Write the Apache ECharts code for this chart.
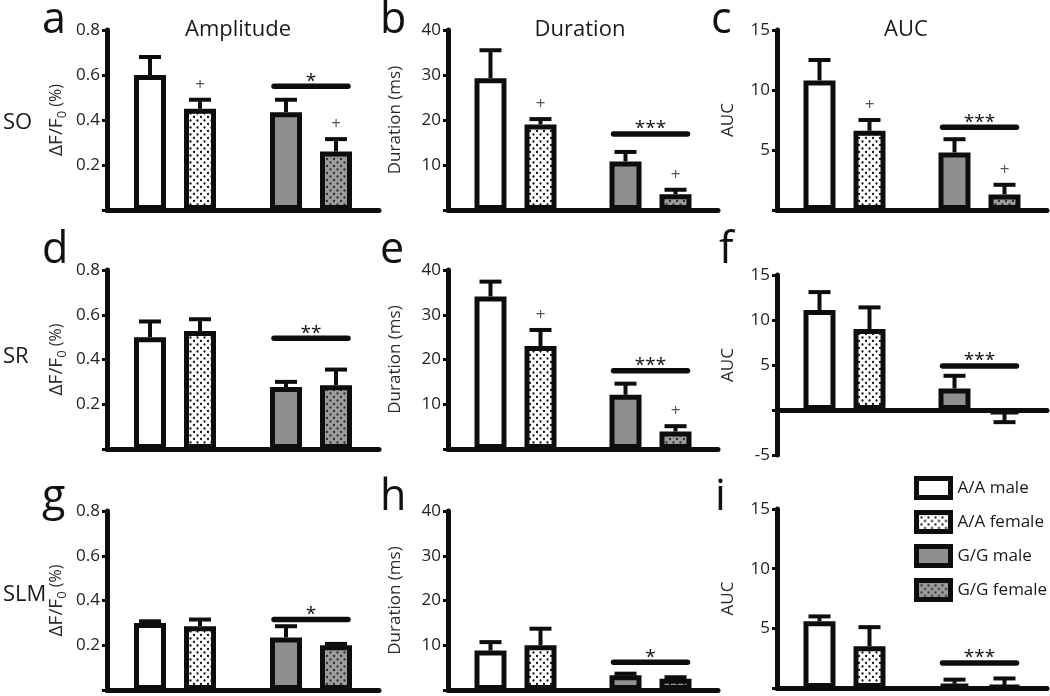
<!DOCTYPE html>
<html>
<head>
<meta charset="utf-8">
<script src="https://cdn.jsdelivr.net/npm/echarts@6/dist/echarts.min.js"></script>
<style>
html,body{margin:0;padding:0;background:#fff;}
#chart{width:1050px;height:696px;}
</style>
</head>
<body>
<div id="chart"></div>
<script>
// ---------------- DATA ----------------
const seriesNames = ['A/A male', 'A/A female', 'G/G male', 'G/G female'];
const groupCats = ['A/A', 'G/G'];
const rowLabels = ['SO', 'SR', 'SLM'];
const colTitles = ['Amplitude', 'Duration', 'AUC'];
const panelLetters = ['a', 'b', 'c', 'd', 'e', 'f', 'g', 'h', 'i'];
const yAxisNames = ['ΔF/F{sub|0}{pct| (%)}', 'Duration (ms)', 'AUC'];

// means (order: A/A male, A/A female, G/G male, G/G female) and SEM
const SO_amplitude = [0.60, 0.45, 0.435, 0.26];
const SO_amplitude_sem = [0.08, 0.04, 0.055, 0.055];
const SO_duration = [29.3, 19.0, 10.8, 3.5];
const SO_duration_sem = [6.2, 1.2, 2.1, 1.0];
const SO_auc = [10.8, 6.6, 4.8, 1.3];
const SO_auc_sem = [1.7, 0.9, 1.1, 0.8];

const SR_amplitude = [0.50, 0.527, 0.277, 0.285];
const SR_amplitude_sem = [0.07, 0.053, 0.023, 0.07];
const SR_duration = [34.1, 23.0, 12.1, 3.9];
const SR_duration_sem = [3.3, 3.6, 2.5, 1.2];
const SR_auc = [11.1, 9.0, 2.4, -0.45];
const SR_auc_sem = [2.0, 2.4, 1.4, 0.9];

const SLM_amplitude = [0.30, 0.285, 0.235, 0.20];
const SLM_amplitude_sem = [0.007, 0.03, 0.05, 0.006];
const SLM_duration = [8.8, 10.0, 3.3, 2.5];
const SLM_duration_sem = [1.9, 3.7, 0.35, 0.35];
const SLM_auc = [5.6, 3.5, 0.35, 0.15];
const SLM_auc_sem = [0.4, 1.6, 0.35, 0.65];

// significance between G/G male and G/G female bars
const sigStars = ['*', '***', '***', '**', '***', '***', '*', '*', '***'];
const sigLevel = [0.55, 16.9, 6.9, 0.495, 17.5, 4.9, 0.315, 6.2, 2.1];
// '+' marks above bars
const plusMarks = [
  [0, 1, 0, 1], [0, 1, 0, 1], [0, 1, 0, 1],
  [0, 0, 0, 0], [0, 1, 0, 1], [0, 0, 0, 0],
  [0, 0, 0, 0], [0, 0, 0, 0], [0, 0, 0, 0]
];

// y-axis ranges per panel: [min, max, interval]
const amplitudeRange = [0, 0.8, 0.2];
const durationRange = [0, 40, 10];
const aucRange = [0, 15, 5];
const aucRangeSR = [-5, 15, 5];

// ---------------- LAYOUT / STYLE ----------------
const FONT = "'Open Sans', 'Noto Sans', sans-serif";
const panelMeans = [SO_amplitude, SO_duration, SO_auc, SR_amplitude, SR_duration, SR_auc, SLM_amplitude, SLM_duration, SLM_auc];
const panelSems = [SO_amplitude_sem, SO_duration_sem, SO_auc_sem, SR_amplitude_sem, SR_duration_sem, SR_auc_sem, SLM_amplitude_sem, SLM_duration_sem, SLM_auc_sem];
const panelRanges = [amplitudeRange, durationRange, aucRange, amplitudeRange, durationRange, aucRangeSR, amplitudeRange, durationRange, aucRange];

const colLeft = [107, 448, 777];
const colWidth = [272, 270, 270];
const panelTop = [30, 30, 30, 270, 270, 275, 511, 511, 509];
const panelHeight = [180, 180, 180, 179, 179, 180, 179, 179, 179];
const nameGaps = [38, 44, 40];
const letterX = [42, 380, 711, 42, 380, 719, 42, 380, 715];
const letterY = [21, 21, 21, 251, 251, 251, 498, 498, 498];
const rowLabelY = [123, 357, 595];
const titleX = [238, 580, 906];

const BAR_W = 32;
const PAIR_OFF = 25;
const CAP = 22;
const SIG_HALF = 37;
const INK = '#0d0d0d';

function dotPattern(bg, dot) {
  const c = document.createElement('canvas');
  c.width = 7; c.height = 7;
  const g = c.getContext('2d');
  g.fillStyle = bg; g.fillRect(0, 0, 7, 7);
  g.fillStyle = dot;
  g.beginPath(); g.arc(1.5, 1.5, 1.15, 0, Math.PI * 2); g.fill();
  g.beginPath(); g.arc(5, 5, 1.15, 0, Math.PI * 2); g.fill();
  return { image: c, repeat: 'repeat' };
}
const fills = ['#ffffff', dotPattern('#ffffff', '#111111'), '#8e908d', dotPattern('#9c9c9c', '#2e2e2e')];

const grids = [], xAxes = [], yAxes = [], series = [], graphics = [];

for (let p = 0; p < 9; p++) {
  const col = p % 3;
  const means = panelMeans[p], sems = panelSems[p], rng = panelRanges[p];
  grids.push({ left: colLeft[col], width: colWidth[col], top: panelTop[p], height: panelHeight[p], containLabel: false });
  xAxes.push({
    gridIndex: p, type: 'category', data: groupCats,
    axisLine: { show: true, onZero: true, lineStyle: { color: INK, width: 5 } },
    axisTick: { show: false }, axisLabel: { show: false }, splitLine: { show: false }
  });
  yAxes.push({
    gridIndex: p, type: 'value', min: rng[0], max: rng[1], interval: rng[2],
    axisLine: { show: true, onZero: false, lineStyle: { color: INK, width: 5 } },
    axisTick: { show: true, length: 5, lineStyle: { color: INK, width: 3 } },
    axisLabel: { color: '#222', fontSize: 17, fontFamily: FONT, margin: 7, formatter: v => (v === 0 ? '' : String(v)) },
    splitLine: { show: false },
    name: yAxisNames[col], nameLocation: 'middle', nameRotate: 90, nameGap: nameGaps[col],
    nameTextStyle: {
      color: '#2a2a2a', fontSize: col === 0 ? 19 : 17, fontFamily: FONT,
      rich: {
        sub: { fontSize: 13, fontFamily: FONT, color: '#2a2a2a', padding: [12, 0, 0, 0] },
        pct: { fontSize: 16, fontFamily: FONT, color: '#2a2a2a' }
      }
    }
  });
  // bars
  for (let s = 0; s < 4; s++) {
    const gi = s < 2 ? 0 : 1;
    const data = gi === 0 ? [means[s], '-'] : ['-', means[s]];
    series.push({
      type: 'bar', name: seriesNames[s], xAxisIndex: p, yAxisIndex: p,
      stack: (s % 2 === 0 ? 'male' : 'female') + p,
      data: data, barWidth: BAR_W, barGap: ((2 * PAIR_OFF - BAR_W) / BAR_W * 100) + '%',
      itemStyle: { color: fills[s], borderColor: INK, borderWidth: 5 },
      emphasis: { disabled: true }, animation: false, z: 2
    });
  }
  // error bars (+ marks)
  const errData = [];
  for (let s = 0; s < 4; s++) errData.push([s < 2 ? 0 : 1, means[s], sems[s], s % 2 === 0 ? -1 : 1, plusMarks[p][s]]);
  series.push({
    type: 'custom', xAxisIndex: p, yAxisIndex: p, data: errData, animation: false, z: 3, silent: true,
    renderItem: function (params, api) {
      const c = api.value(0), m = api.value(1), e = api.value(2), side = api.value(3), plus = api.value(4);
      const p0 = api.coord([c, m]);
      const p1 = api.coord([c, m < 0 ? m - e : m + e]);
      const x = p0[0] + side * PAIR_OFF;
      const kids = [
        { type: 'line', shape: { x1: x, y1: p0[1], x2: x, y2: p1[1] }, style: { stroke: INK, lineWidth: 4 } },
        { type: 'line', shape: { x1: x - CAP / 2, y1: p1[1], x2: x + CAP / 2, y2: p1[1] }, style: { stroke: INK, lineWidth: 4 } }
      ];
      if (plus) kids.push({ type: 'text', x: x, y: p1[1] - 15, style: { text: '+', fill: '#555', fontSize: 17, fontFamily: FONT, align: 'center', verticalAlign: 'middle' } });
      return { type: 'group', children: kids };
    }
  });
  // significance line
  const stars = sigStars[p];
  series.push({
    type: 'custom', xAxisIndex: p, yAxisIndex: p, data: [[1, sigLevel[p]]], animation: false, z: 3, silent: true,
    renderItem: function (params, api) {
      const pt = api.coord([api.value(0), api.value(1)]);
      return { type: 'group', children: [
        { type: 'line', shape: { x1: pt[0] - SIG_HALF, y1: pt[1], x2: pt[0] + SIG_HALF, y2: pt[1] }, style: { stroke: INK, lineWidth: 5.5, lineCap: 'round' } },
        { type: 'text', x: pt[0], y: pt[1] - 5, style: { text: stars, fill: '#111', fontSize: 19, fontFamily: FONT, align: 'center', verticalAlign: 'middle' } }
      ] };
    }
  });
  // panel letter
  graphics.push({ type: 'text', x: letterX[p], y: letterY[p], silent: true,
    style: { text: panelLetters[p], fill: '#111', fontSize: 43, fontFamily: FONT, align: 'left', verticalAlign: 'middle' } });
}
for (let c = 0; c < 3; c++) {
  graphics.push({ type: 'text', x: titleX[c], y: 30, silent: true,
    style: { text: colTitles[c], fill: '#1a1a1a', fontSize: 22, fontFamily: FONT, align: 'center', verticalAlign: 'middle' } });
}
for (let r = 0; r < 3; r++) {
  graphics.push({ type: 'text', x: 3, y: rowLabelY[r], silent: true,
    style: { text: rowLabels[r], fill: '#1a1a1a', fontSize: 22, fontFamily: FONT, align: 'left', verticalAlign: 'middle' } });
}

const chart = echarts.init(document.getElementById('chart'), null, { renderer: 'canvas' });
chart.setOption({
  backgroundColor: '#ffffff',
  animation: false,
  grid: grids, xAxis: xAxes, yAxis: yAxes, series: series, graphic: graphics,
  legend: {
    data: seriesNames, orient: 'vertical', left: 909, top: 471, icon: 'rect',
    itemWidth: 34, itemHeight: 19, itemGap: 10, selectedMode: false,
    textStyle: { fontSize: 17, color: '#1a1a1a', fontFamily: FONT, padding: [0, 0, 0, 2] },
    itemStyle: { borderColor: INK, borderWidth: 5 }
  }
});
</script>
</body>
</html>
